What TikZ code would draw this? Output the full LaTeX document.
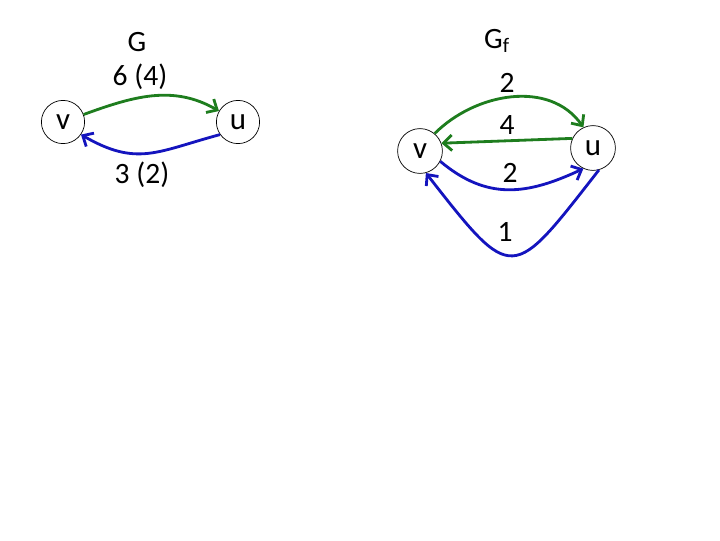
\documentclass[tikz,border=0pt]{standalone}
\usepackage{fontspec}
\setmainfont{Carlito}
\usepackage{tikz}
\usetikzlibrary{arrows.meta}
\usetikzlibrary{positioning}
\definecolor{flowgreen}{RGB}{30,125,30}
\definecolor{flowblue}{RGB}{20,20,190}
\tikzstyle{vertex}=[circle,draw=black,line width=0.5pt,inner sep=0mm,minimum size=1.08cm,font=\fontsize{22}{26}\selectfont]
\tikzstyle{lbl}=[inner sep=0mm,font=\fontsize{21}{25}\selectfont]
\tikzstyle{arc}=[-{Straight Barb[length=6pt,width=11pt]},line width=2pt]

\begin{document}
\begin{tikzpicture}[x=0.025cm,y=-0.025cm]
      \useasboundingbox (0,0) rectangle (720,540);
      % G
      \node[lbl] at (137,42) (g) {G};
      \node[vertex] at (63,122) (v) {v};
      \node[vertex] at (238,122) (u) {u};
      \node[lbl] at (140,77) (c1) {6 (4)};
      \node[lbl] at (142,175) (c2) {3 (2)};
      \draw[arc,flowgreen] (v.20) to[out=20,in=150] (u.150);
      \draw[arc,flowblue] (u.215) to[out=195,in=-30,looseness=1.2] (v.-35);
      % residual graph
      \node[lbl] at (497,41) (gf) {G\textsubscript{f}};
      \node[vertex,minimum size=1.12cm] at (420,151) (rv) {v};
      \node[vertex,minimum size=1.12cm] at (593,148) (ru) {u};
      \node[lbl] at (507,83) (r1) {2};
      \node[lbl] at (507,125) (r2) {4};
      \node[lbl] at (510,173) (r3) {2};
      \node[lbl] at (505,232) (r4) {1};
      \draw[arc,flowgreen] (rv.50) to[out=45,in=125] (ru.115);
      \draw[arc,flowgreen] (ru.155) -- (rv.20);
      \draw[arc,flowblue] (rv.-27) to[out=-40,in=205,looseness=1.1] (ru.245);
      \draw[arc,flowblue] (ru.285) to[out=232,in=-52,looseness=2.1] (rv.285);
\end{tikzpicture}
\end{document}
